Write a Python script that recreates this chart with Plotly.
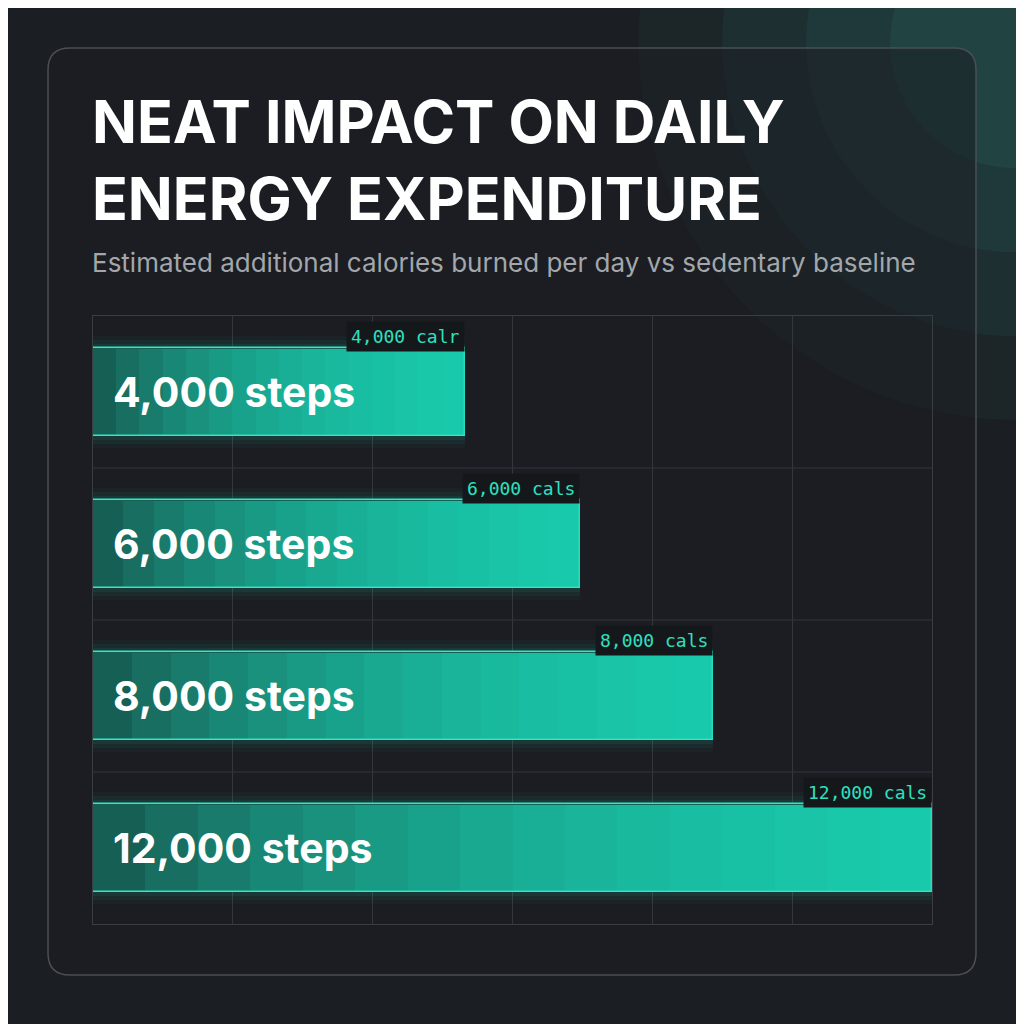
import plotly.graph_objects as go

categories = ["4,000 steps", "6,000 steps", "8,000 steps", "12,000 steps"]
values = [5320, 6970, 8870, 12000]
value_labels = ["4,000 calr", "6,000 cals", "8,000 cals", "12,000 cals"]
x_ticks = [0, 2000, 4000, 6000, 8000, 10000, 12000]

BG = "#1b1e22"
fig = go.Figure()

# soft glow behind bars
for w, op in [(0.74, 0.035), (0.68, 0.05), (0.63, 0.07)]:
    fig.add_trace(go.Bar(x=values, y=categories, orientation="h", width=w,
                         marker=dict(color=f"rgba(30,220,185,{op})", line=dict(width=0)),
                         hoverinfo="skip", showlegend=False))
fig.add_trace(go.Bar(x=values, y=categories, orientation="h", width=0.58,
                     marker=dict(color="rgba(22,95,85,1)", line=dict(color="#2ee8c6", width=1.5)),
                     showlegend=False))
n = 16
for k in range(1, n):
    frac = k / n
    fig.add_trace(go.Bar(x=[v * (1 - frac) for v in values], base=[v * frac for v in values],
                         y=categories, orientation="h", width=0.565,
                         marker=dict(color="rgba(35,225,190,0.12)", line=dict(width=0)),
                         hoverinfo="skip", showlegend=False))

for c, v, lab in zip(categories, values, value_labels):
    fig.add_annotation(x=0, y=c, text=f"<b>{c}</b>", xanchor="left", xshift=18, showarrow=False,
                       font=dict(family="Inter", size=41, color="white"))
    fig.add_annotation(x=v, y=c, text=lab, xanchor="right", yanchor="bottom", yshift=40, showarrow=False,
                       font=dict(family="DejaVu Sans Mono", size=18, color="#2fe0c0"),
                       bgcolor="#15181b", borderpad=4)

# top-right glow
for r, op in [(0.45, 0.05), (0.35, 0.06), (0.25, 0.07), (0.15, 0.08)]:
    fig.add_shape(type="circle", xref="paper", yref="paper",
                  x0=1.1 - r, x1=1.1 + r, y0=1.45 - r * 1.38, y1=1.45 + r * 1.38,
                  fillcolor=f"rgba(60,200,180,{op})", line_width=0, layer="below")

# rounded card
def px(x): return (x - 93) / 839
def py(y): return (924 - y) / 608
x0, x1, y0, y1, r = 48, 976, 48, 975, 22
path = (f"M {px(x0+r)},{py(y0)} L {px(x1-r)},{py(y0)} Q {px(x1)},{py(y0)} {px(x1)},{py(y0+r)} "
        f"L {px(x1)},{py(y1-r)} Q {px(x1)},{py(y1)} {px(x1-r)},{py(y1)} "
        f"L {px(x0+r)},{py(y1)} Q {px(x0)},{py(y1)} {px(x0)},{py(y1-r)} "
        f"L {px(x0)},{py(y0+r)} Q {px(x0)},{py(y0)} {px(x0+r)},{py(y0)} Z")
fig.add_shape(type="path", xref="paper", yref="paper", path=path,
              line=dict(color="#4a4f55", width=1.5), fillcolor="rgba(27,30,34,0.55)", layer="below")

fig.add_annotation(xref="paper", yref="paper", x=-0.003, y=py(84), xanchor="left", yanchor="top",
                   text="<b>NEAT IMPACT ON DAILY<br>ENERGY EXPENDITURE</b>", align="left", showarrow=False,
                   font=dict(family="Inter", size=59, color="white"))
fig.add_annotation(xref="paper", yref="paper", x=-0.003, y=py(263), xanchor="left", yanchor="middle",
                   text="Estimated additional calories burned per day vs sedentary baseline", showarrow=False,
                   font=dict(family="Inter", size=26, color="#a3a7ab"))

fig.update_layout(
    width=1024, height=1024, paper_bgcolor=BG, plot_bgcolor="rgba(0,0,0,0)",
    margin=dict(l=85, r=100, t=308, b=108), barmode="overlay", bargap=0,
    xaxis=dict(range=[0, 12000], tickvals=x_ticks, showticklabels=False, gridcolor="#33373c",
               zeroline=False, showline=True, mirror=True, linecolor="#3a3e43"),
    yaxis=dict(autorange="reversed", showticklabels=False, showgrid=False, showline=True, mirror=True,
               linecolor="#3a3e43"),
)
for i in range(1, 4):
    fig.add_shape(type="line", xref="paper", yref="y", x0=0, x1=1, y0=i - 0.5, y1=i - 0.5,
                  line=dict(color="#33373c", width=1), layer="below")

fig.write_html("out.html")
